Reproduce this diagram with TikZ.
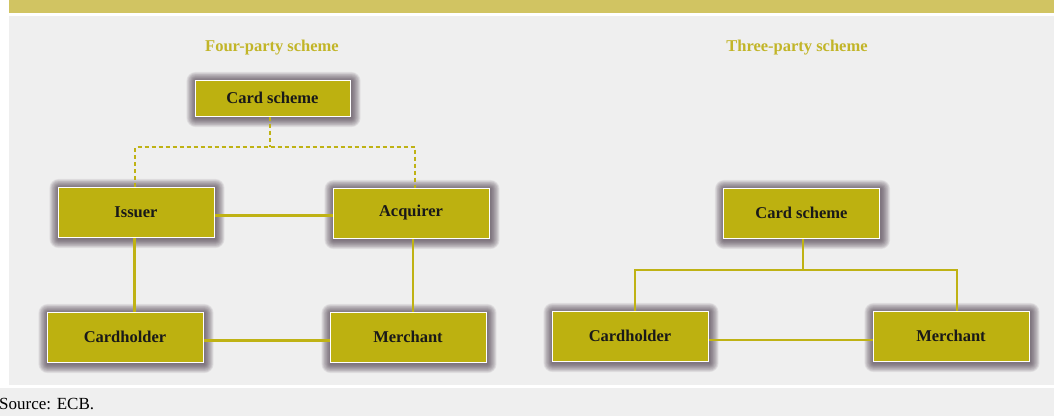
\documentclass[tikz,border=0pt]{standalone}
\usepackage{fontspec}
\setmainfont{Liberation Serif}
\definecolor{bandc}{RGB}{209,196,98}
\definecolor{panelc}{RGB}{239,239,239}
\definecolor{boxc}{RGB}{189,177,16}
\definecolor{linec}{RGB}{191,178,20}
\definecolor{titlec}{RGB}{194,181,40}
\definecolor{shadowc}{RGB}{70,55,70}
\pgfdeclarelayer{bglayer}
\pgfdeclarelayer{shadowlayer}
\pgfsetlayers{bglayer,shadowlayer,main}
\newcommand\boxshadow[1]{%
  \begin{pgfonlayer}{shadowlayer}
    \foreach \r in {0.7,1.4,...,9.1}{%
      \fill[shadowc, opacity=0.075, rounded corners=\r pt]
        ([xshift=-\r pt+1pt, yshift=\r pt-1.5pt]#1.north west) rectangle
        ([xshift=\r pt+1pt, yshift=-\r pt-1.5pt]#1.south east);
    }
  \end{pgfonlayer}}
\begin{document}
\begin{tikzpicture}[x=1pt,y=-1pt,
  box/.style={draw=white, line width=1pt, fill=boxc, minimum width=156pt,
    minimum height=50pt, inner sep=0pt, text=black!90,
    font=\fontsize{16.5}{18}\selectfont\bfseries},
  title/.style={text=titlec, font=\fontsize{16.5}{18}\selectfont\bfseries, inner sep=0pt},
  conn/.style={draw=linec, line width=2.6pt},
  dconn/.style={conn, dash pattern=on 4pt off 3pt}]
\useasboundingbox (0,0) rectangle (1054,416);
% background
\begin{pgfonlayer}{bglayer}
\fill[white] (0,0) rectangle (1054,416);
\fill[bandc] (9,0) rectangle (1054,13);
\fill[panelc] (9,16) rectangle (1054,385);
\fill[panelc] (0,388) rectangle (1054,416);
\end{pgfonlayer}
% titles
\node[title] (t1) at (272,48) {Four-party scheme};
\node[title] (t2) at (797,48) {Three-party scheme};
% four-party nodes
\node[box, minimum width=155pt, minimum height=36pt] (cs1) at (272.5,98) {Card scheme};
\node[box] (iss) at (136,212) {Issuer};
\node[box] (acq) at (411,213) {Acquirer};
\node[box] (ch1) at (125,337) {Cardholder};
\node[box] (me1) at (408,337) {Merchant};
% three-party nodes
\node[box] (cs2) at (801.5,213) {Card scheme};
\node[box] (ch2) at (630,336) {Cardholder};
\node[box] (me2) at (951,336) {Merchant};
\foreach \n in {cs1,iss,acq,ch1,me1,cs2,ch2,me2}{\boxshadow{\n}}
% junction coordinates
\coordinate (j1) at (270,147);
\coordinate (j2) at (803,270);
% four-party connectors
\begin{pgfonlayer}{shadowlayer}
\draw[dconn] ([xshift=-2.5pt]cs1.south) -- (j1);
\draw[dconn] ([xshift=-1pt]iss.north) |- (j1) -| ([xshift=4pt]acq.north);
\draw[conn] ([yshift=-3.5pt]iss.east) -- ([yshift=-3.5pt]iss.east -| acq.west);
\draw[conn] ([xshift=-1.5pt]iss.south) -- ([xshift=9.5pt]ch1.north);
\draw[conn] ([xshift=2pt]acq.south) -- ([xshift=5pt]me1.north);
\draw[conn] ([yshift=-3.5pt]ch1.east) -- ([yshift=-3.5pt]me1.west);
% three-party connectors
\draw[conn] ([xshift=1.5pt]cs2.south) -- (j2);
\draw[conn] ([xshift=5pt]ch2.north) |- (j2) -| ([xshift=6pt]me2.north);
\draw[conn] ([yshift=-4pt]ch2.east) -- ([yshift=-4pt]me2.west);
\end{pgfonlayer}
% source
\node[anchor=base west, inner sep=0pt, font=\fontsize{17}{19}\selectfont] (src) at (-1,409) {Source: ECB.};
\end{tikzpicture}
\end{document}
